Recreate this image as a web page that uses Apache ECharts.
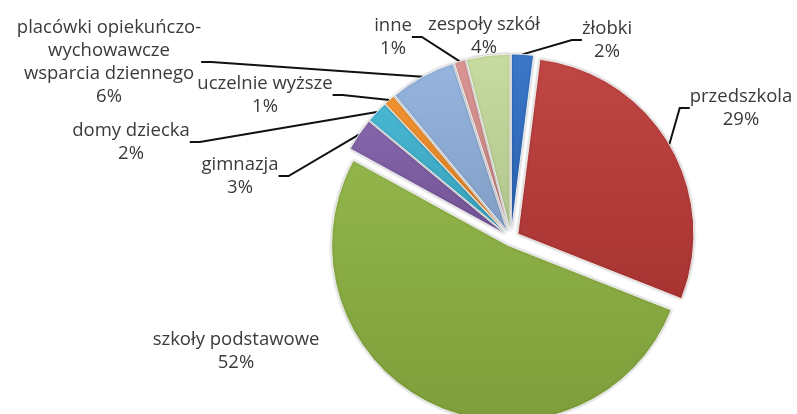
<!DOCTYPE html>
<html>
<head>
<meta charset="utf-8">
<script src="https://cdn.jsdelivr.net/npm/echarts@6/dist/echarts.min.js"></script>
<style>
html, body { margin: 0; padding: 0; background: #fff; }
#chart { width: 797px; height: 414px; }
</style>
</head>
<body>
<div id="chart"></div>
<script>
// dane (procenty)
var categories = ['żłobki', 'przedszkola', 'szkoły podstawowe', 'gimnazja', 'domy dziecka',
    'uczelnie wyższe', 'placówki opiekuńczo-\nwychowawcze\nwsparcia dziennego', 'inne', 'zespoły szkół'];
var values = [2, 29, 52, 3, 2, 1, 6, 1, 4];
var colors = ['#2f6dc4', '#bb3a37', '#8bb040', '#7d5ca6', '#3db2cf', '#f08b26', '#8fb0dc', '#d98f8d', '#c4da9b'];
var showLine = [true, true, false, true, true, true, true, true, false];

// pozycje etykiet (srodek tekstu)
var labelPos = [[607, 40], [741, 108], [236, 351], [240, 176], [131, 142], [265, 95], [109, 62], [393, 37], [484, 36]];

var center = [511, 238];
var R = 176;
var explode = 8;

// jasniejszy / ciemniejszy odcien
function shade(hex, k) {
    var n = parseInt(hex.slice(1), 16);
    var c = [(n >> 16) & 255, (n >> 8) & 255, n & 255].map(function (v) {
        v = k > 0 ? v + (255 - v) * k : v * (1 + k);
        return Math.round(v);
    });
    return 'rgb(' + c.join(',') + ')';
}

var myChart = echarts.init(document.getElementById('chart'));

// wycinki (wszystkie wysuniete)
var sliceData = categories.map(function (name, i) {
    return {
        name: name,
        value: values[i],
        selected: true,
        itemStyle: {
            color: new echarts.graphic.LinearGradient(0, 0, 0, 1, [
                { offset: 0, color: shade(colors[i], 0.06) },
                { offset: 1, color: shade(colors[i], -0.1) }
            ])
        }
    };
});

// niewidoczna kopia tylko dla etykiet i linii
var labelData = categories.map(function (name, i) {
    return {
        name: name,
        value: values[i],
        labelLine: { show: showLine[i] }
    };
});

var option = {
    animation: false,
    series: [
        {
            type: 'pie',
            center: center,
            radius: R,
            startAngle: 90,
            selectedMode: 'multiple',
            selectedOffset: explode,
            itemStyle: {
                borderColor: 'rgba(255,255,255,0.8)',
                borderWidth: 1,
                shadowColor: 'rgba(0,0,0,0.3)',
                shadowBlur: 3
            },
            label: { show: false },
            labelLine: { show: false },
            emphasis: { disabled: true },
            data: sliceData
        },
        {
            type: 'pie',
            center: center,
            radius: R + explode,
            startAngle: 90,
            silent: true,
            avoidLabelOverlap: false,
            itemStyle: { color: 'rgba(0,0,0,0)', borderWidth: 0 },
            label: {
                formatter: '{b}\n{c}%',
                fontFamily: 'Open Sans',
                fontSize: 18.5,
                lineHeight: 23,
                color: '#3a3a3a',
                align: 'center'
            },
            labelLine: {
                length: 10,
                length2: 10,
                lineStyle: { color: '#111', width: 2 }
            },
            labelLayout: function (params) {
                var p = labelPos[params.dataIndex];
                return { x: p[0], y: p[1], align: 'center', verticalAlign: 'middle' };
            },
            emphasis: { disabled: true },
            data: labelData
        }
    ]
};
myChart.setOption(option);
</script>
</body>
</html>
